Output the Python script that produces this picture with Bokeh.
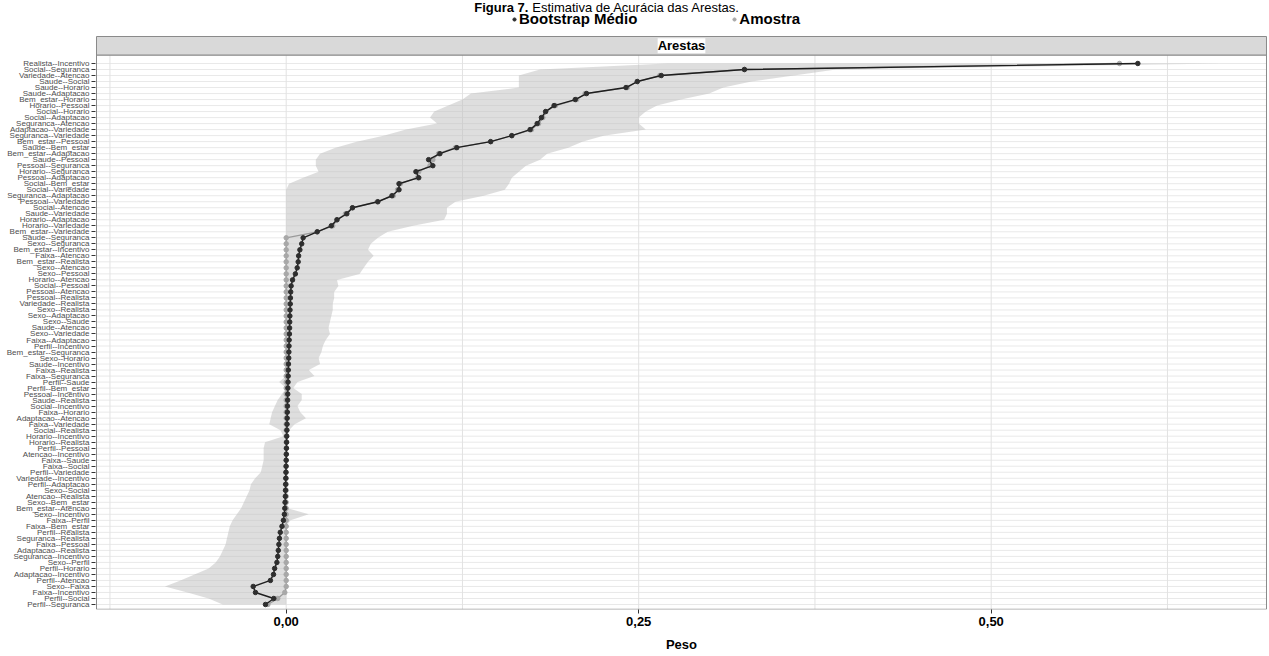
from bokeh.plotting import figure
from bokeh.models import Range1d, FixedTicker, Legend, LegendItem, Label
from bokeh.embed import file_html
from bokeh.resources import INLINE

# ---------------- data ----------------
edges = [
    "Realista--Incentivo", "Social--Seguranca", "Variedade--Atencao", "Saude--Social",
    "Saude--Horario", "Saude--Adaptacao", "Bem_estar--Horario", "Horario--Pessoal",
    "Social--Horario", "Social--Adaptacao", "Seguranca--Atencao", "Adaptacao--Variedade",
    "Seguranca--Variedade", "Bem_estar--Pessoal", "Saude--Bem_estar", "Bem_estar--Adaptacao",
    "Saude--Pessoal", "Pessoal--Seguranca", "Horario--Seguranca", "Pessoal--Adaptacao",
    "Social--Bem_estar", "Social--Variedade", "Seguranca--Adaptacao", "Pessoal--Variedade",
    "Social--Atencao", "Saude--Variedade", "Horario--Adaptacao", "Horario--Variedade",
    "Bem_estar--Variedade", "Saude--Seguranca", "Sexo--Seguranca", "Bem_estar--Incentivo",
    "Faixa--Atencao", "Bem_estar--Realista", "Sexo--Atencao", "Sexo--Pessoal",
    "Horario--Atencao", "Social--Pessoal", "Pessoal--Atencao", "Pessoal--Realista",
    "Variedade--Realista", "Sexo--Realista", "Sexo--Adaptacao", "Sexo--Saude",
    "Saude--Atencao", "Sexo--Variedade", "Faixa--Adaptacao", "Perfil--Incentivo",
    "Bem_estar--Seguranca", "Sexo--Horario", "Saude--Incentivo", "Faixa--Realista",
    "Faixa--Seguranca", "Perfil--Saude", "Perfil--Bem_estar", "Pessoal--Incentivo",
    "Saude--Realista", "Social--Incentivo", "Faixa--Horario", "Adaptacao--Atencao",
    "Faixa--Variedade", "Social--Realista", "Horario--Incentivo", "Horario--Realista",
    "Perfil--Pessoal", "Atencao--Incentivo", "Faixa--Saude", "Faixa--Social",
    "Perfil--Variedade", "Variedade--Incentivo", "Perfil--Adaptacao", "Sexo--Social",
    "Atencao--Realista", "Sexo--Bem_estar", "Bem_estar--Atencao", "Sexo--Incentivo",
    "Faixa--Perfil", "Faixa--Bem_estar", "Perfil--Realista", "Seguranca--Realista",
    "Faixa--Pessoal", "Adaptacao--Realista", "Seguranca--Incentivo", "Sexo--Perfil",
    "Perfil--Horario", "Adaptacao--Incentivo", "Perfil--Atencao", "Sexo--Faixa",
    "Faixa--Incentivo", "Perfil--Social", "Perfil--Seguranca",
]

sample = [
    0.591, 0.325, 0.265, 0.249, 0.242, 0.212, 0.206, 0.191, 0.184, 0.182,
    0.179, 0.174, 0.160, 0.145, 0.120, 0.108, 0.104, 0.102, 0.094, 0.093,
    0.081, 0.079, 0.076, 0.0645, 0.047, 0.042, 0.036, 0.033, 0.022, 0.0,
    0.0, 0.0, 0.0, 0.0, 0.0, 0.0, 0.0, 0.0, 0.0, 0.0,
    0.0, 0.0, 0.0, 0.0, 0.0, 0.0, 0.0, 0.0, 0.0, 0.0,
    0.0, 0.0, 0.0, 0.0, 0.0, 0.0, 0.0, 0.0, 0.0, 0.0,
    0.0, 0.0, 0.0, 0.0, 0.0, 0.0, 0.0, 0.0, 0.0, 0.0,
    0.0, 0.0, 0.0, 0.0, 0.0, 0.0, 0.0, 0.0, 0.0, 0.0,
    0.0, 0.0, 0.0, 0.0, 0.0, 0.0, 0.0, 0.0, -0.001, -0.006,
    -0.013,
]

boot_mean = [
    0.604, 0.325, 0.266, 0.249, 0.241, 0.213, 0.205, 0.190, 0.184, 0.181,
    0.178, 0.173, 0.160, 0.145, 0.121, 0.109, 0.101, 0.104, 0.092, 0.094,
    0.080, 0.080, 0.075, 0.065, 0.047, 0.043, 0.036, 0.032, 0.022, 0.012,
    0.011, 0.0097, 0.0088, 0.0085, 0.0078, 0.0065, 0.0045, 0.0035, 0.0032, 0.003,
    0.0029, 0.0027, 0.0026, 0.0025, 0.0024, 0.0023, 0.0021, 0.002, 0.0019, 0.0018,
    0.0016, 0.0015, 0.0014, 0.0013, 0.0012, 0.0011, 0.001, 0.0009, 0.0008, 0.0007,
    0.0006, 0.0005, 0.0004, 0.0003, 0.0002, 0.0001, 0.0, -0.0001, -0.0002, -0.0003,
    -0.0004, -0.0005, -0.0006, -0.0008, -0.001, -0.0013, -0.002, -0.003, -0.0042, -0.0048,
    -0.0052, -0.0056, -0.006, -0.0066, -0.0082, -0.009, -0.0112, -0.0234, -0.0218, -0.0088,
    -0.0147,
]

ci_lower = [
    0.27, 0.18, 0.165, 0.165, 0.165, 0.131, 0.125, 0.115, 0.105, 0.102,
    0.107, 0.085, 0.069, 0.05, 0.035, 0.024, 0.021, 0.021, 0.023, 0.012,
    0.002, 0.0, 0.0, 0.0, 0.0, 0.0, 0.0, 0.0, 0.0, 0.0,
    0.0, 0.0, 0.0, 0.0, 0.0, 0.0, 0.0, 0.0, 0.0, 0.0,
    0.0, 0.0, 0.0, 0.0, 0.0, 0.0, 0.0, 0.0, 0.0, 0.0,
    0.0, 0.0, 0.0, -0.005, 0.0, -0.003, -0.006, -0.008, -0.01, -0.011,
    -0.012, -0.004, -0.002, -0.015, -0.016, -0.016, -0.016, -0.017, -0.018, -0.022,
    -0.025, -0.026, -0.028, -0.03, -0.032, -0.035, -0.038, -0.04, -0.041, -0.042,
    -0.043, -0.045, -0.047, -0.05, -0.055, -0.065, -0.075, -0.086, -0.07, -0.055,
    -0.045,
]

ci_upper = [
    0.662, 0.39, 0.36, 0.33, 0.31, 0.30, 0.28, 0.263, 0.255, 0.25,
    0.25, 0.255, 0.225, 0.21, 0.20, 0.185, 0.18, 0.17, 0.165, 0.16,
    0.158, 0.155, 0.14, 0.12, 0.114, 0.114, 0.112, 0.09, 0.072, 0.065,
    0.06, 0.058, 0.062, 0.058, 0.055, 0.052, 0.036, 0.037, 0.034, 0.034,
    0.033, 0.033, 0.032, 0.031, 0.03, 0.031, 0.028, 0.026, 0.025, 0.023,
    0.024, 0.016, 0.02, 0.008, 0.005, 0.011, 0.011, 0.008, 0.01, 0.014,
    0.006, 0.002, 0.001, 0.001, 0.001, 0.001, 0.001, 0.001, 0.001, 0.001,
    0.001, 0.001, 0.001, 0.001, 0.001, 0.016, 0.003, 0.0, 0.0, 0.0,
    0.0, 0.0, 0.0, 0.0, 0.0, 0.0, 0.0, 0.0, 0.0, 0.0,
    0.0,
]

x_ticks = [0.0, 0.25, 0.5]
x_tick_labels = ["0,00", "0,25", "0,50"]
x_minor = [-0.125, 0.125, 0.375, 0.625]

title_bold = "Figura 7."
title_rest = "Estimativa de Acurácia das Arestas."
legend_labels = ["Bootstrap Médio", "Amostra"]
strip_label = "Arestas"
x_label = "Peso"

# ---------------- layout constants ----------------
FONT = "Liberation Sans"
n = len(edges)
ypos = [n + 1 - i for i in range(1, n + 1)]  # first edge at the top

X_START, X_END = -0.13525, 0.69596
PX0, PX1 = -0.13454, 0.69525
Y_START, Y_END = 0.166, 101.48
PANEL_BOTTOM, PANEL_TOP = 0.2, 92.41
STRIP_TOP = 95.49

p = figure(width=1268, height=656, output_backend="svg", toolbar_location=None,
           x_range=Range1d(X_START, X_END), y_range=Range1d(Y_START, Y_END),
           min_border_left=95, min_border_right=1, min_border_top=0, min_border_bottom=47)
p.outline_line_color = None
p.xgrid.visible = False
p.ygrid.visible = False
p.background_fill_color = "white"

# row grid lines
p.segment(x0=[PX0] * n, x1=[PX1] * n, y0=ypos, y1=ypos, line_color="#e9e9e9", line_width=1)
# vertical grid lines
vg = x_ticks + x_minor
p.segment(x0=vg, x1=vg, y0=[PANEL_BOTTOM] * len(vg), y1=[PANEL_TOP] * len(vg),
          line_color="#e2e2e2", line_width=1)

# CI ribbon
p.harea(x1=ci_lower, x2=ci_upper, y=ypos, fill_color="#bdbdbd", fill_alpha=0.5)

# sample line and points
p.line(x=sample, y=ypos, line_color="#9a9a9a", line_width=1.3)
r_samp = p.scatter(x=sample, y=ypos, size=4.5, fill_color="#a8a8a8", line_color="#a8a8a8")
# bootstrap mean line and points
p.line(x=boot_mean, y=ypos, line_color="#1e1e1e", line_width=1.4)
r_boot = p.scatter(x=boot_mean, y=ypos, size=4.5, fill_color="#2e2e2e", line_color="#2e2e2e")

# panel border and strip
p.quad(left=[PX0], right=[PX1], bottom=[PANEL_BOTTOM], top=[PANEL_TOP],
       fill_color=None, line_color="#8a8a8a", line_width=1)
p.quad(left=[PX0], right=[PX1], bottom=[PANEL_TOP], top=[STRIP_TOP],
       fill_color="#d9d9d9", line_color="#8a8a8a", line_width=1)
p.add_layout(Label(x=(PX0 + PX1) / 2, y=(PANEL_TOP + STRIP_TOP) / 2, text=strip_label,
                   text_align="center", text_baseline="middle", text_font=FONT,
                   text_font_size="13px", text_font_style="bold", text_color="black",
                   background_fill_color="white", background_fill_alpha=1.0))

# title
TITLE_Y = 100.3
p.add_layout(Label(x=0.1718, y=TITLE_Y, text=title_bold, text_align="right", text_baseline="middle",
                   text_font=FONT, text_font_size="13px", text_font_style="bold", text_color="black"))
p.add_layout(Label(x=0.1745, y=TITLE_Y, text=title_rest, text_align="left", text_baseline="middle",
                   text_font=FONT, text_font_size="13px", text_color="black"))

# legend
legend = Legend(items=[LegendItem(label=legend_labels[0], renderers=[r_boot]),
                       LegendItem(label=legend_labels[1], renderers=[r_samp])],
                orientation="horizontal", location=(415, 582),
                border_line_color=None, background_fill_alpha=0.0,
                label_text_font=FONT, label_text_font_size="15px", label_text_font_style="bold",
                label_text_color="black", glyph_width=8, glyph_height=10,
                label_height=15, label_standoff=1, spacing=93, padding=0, margin=0)
p.add_layout(legend)

# axes
p.yaxis.ticker = FixedTicker(ticks=ypos, minor_ticks=[])
p.yaxis.major_label_overrides = {y: e for y, e in zip(ypos, edges)}
p.yaxis.major_label_text_font = FONT
p.yaxis.major_label_text_font_size = "8px"
p.yaxis.major_label_text_color = "#4d4d4d"
p.yaxis.major_label_standoff = 2
p.yaxis.major_tick_out = 4
p.yaxis.major_tick_in = 0
p.yaxis.major_tick_line_color = "#333333"
p.yaxis.axis_line_color = None
p.yaxis.bounds = (PANEL_BOTTOM, PANEL_TOP)

p.xaxis.ticker = FixedTicker(ticks=x_ticks, minor_ticks=[])
p.xaxis.major_label_overrides = {t: l for t, l in zip(x_ticks, x_tick_labels)}
p.xaxis.major_label_text_font = FONT
p.xaxis.major_label_text_font_size = "13px"
p.xaxis.major_label_text_font_style = "bold"
p.xaxis.major_label_text_color = "black"
p.xaxis.major_label_standoff = 3
p.xaxis.major_tick_out = 4
p.xaxis.major_tick_in = 0
p.xaxis.major_tick_line_color = "#333333"
p.xaxis.axis_line_color = None
p.xaxis.axis_label = x_label
p.xaxis.axis_label_text_font = FONT
p.xaxis.axis_label_text_font_size = "13px"
p.xaxis.axis_label_text_font_style = "bold"
p.xaxis.axis_label_text_color = "black"
p.xaxis.axis_label_standoff = 8

open("out.html", "w").write(file_html(p, INLINE))
